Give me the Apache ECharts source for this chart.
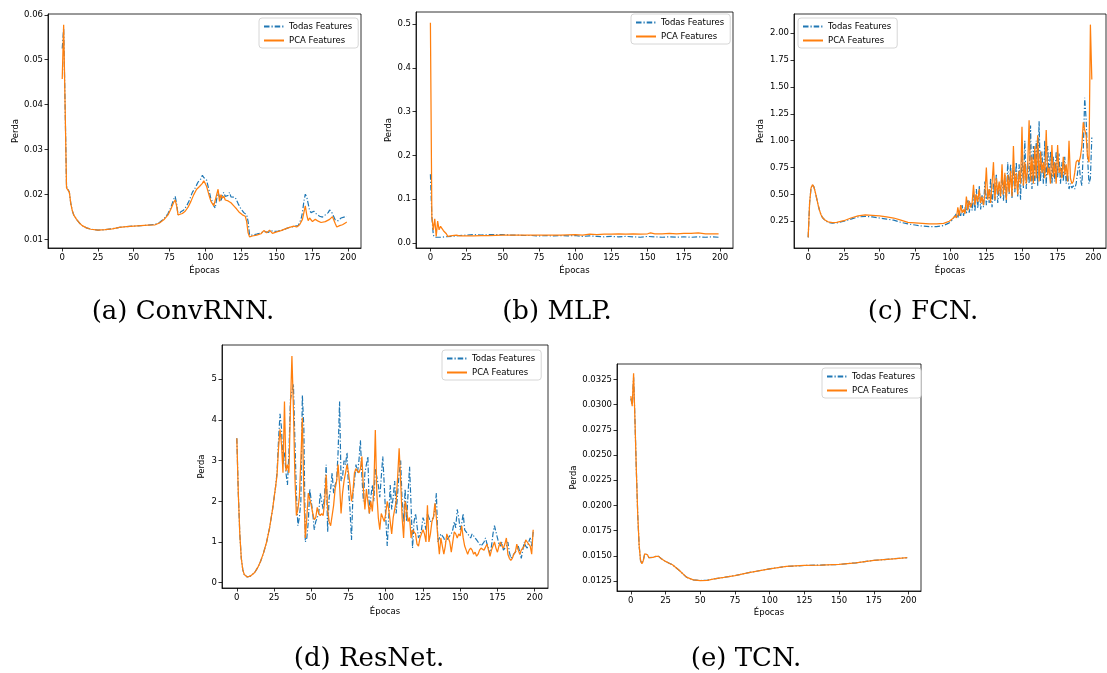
<!DOCTYPE html>
<html>
<head>
<meta charset="utf-8">
<script src="https://cdn.jsdelivr.net/npm/echarts@6/dist/echarts.min.js"></script>
<style>html,body{margin:0;padding:0;background:#fff;}#c{width:1107px;height:673px;}</style>
</head>
<body>
<div id="c"></div>
<script>
// ---------- DATA ----------
const seriesNames = ['Todas Features', 'PCA Features'];
const captionLabels = ['(a) ConvRNN.', '(b) MLP.', '(c) FCN.', '(d) ResNet.', '(e) TCN.'];
const xLabel = 'Épocas';
const yLabel = 'Perda';
const xTicks = [0, 25, 50, 75, 100, 125, 150, 175, 200];
const yTicksConvRNN = [0.01, 0.02, 0.03, 0.04, 0.05, 0.06];
const yTicksMLP = [0.0, 0.1, 0.2, 0.3, 0.4, 0.5];
const yTicksFCN = [0.25, 0.50, 0.75, 1.00, 1.25, 1.50, 1.75, 2.00];
const yTicksResNet = [0, 1, 2, 3, 4, 5];
const yTicksTCN = [0.0125, 0.0150, 0.0175, 0.0200, 0.0225, 0.0250, 0.0275, 0.0300, 0.0325];

const convrnnTodas = [[0,0.0525],[1,0.0570],[2,0.0400],[3,0.0218],[4,0.0213],[5,0.0205],[6,0.0180],[7,0.0165],[8,0.0155],[10,0.0145],[12,0.0137],[14,0.0131],[17,0.0126],[20,0.0123],[25,0.0121],[30,0.0122],[35,0.0124],[40,0.0127],[45,0.0129],[50,0.0130],[55,0.0131],[60,0.0132],[65,0.0134],[68,0.0138],[71,0.0146],[74,0.0158],[76,0.0172],[78,0.0190],[79,0.0196],[80,0.0180],[81,0.0155],[83,0.0162],[85,0.0166],[87,0.0175],[89,0.0188],[91,0.0205],[93,0.0215],[95,0.0228],[97,0.0235],[98,0.0243],[99,0.0238],[100,0.0236],[101,0.0232],[102,0.0228],[103,0.0205],[104,0.0190],[105,0.0185],[106,0.0175],[107,0.0170],[108,0.0190],[109,0.0205],[110,0.0195],[111,0.0185],[112,0.0200],[113,0.0205],[114,0.0196],[115,0.0200],[116,0.0198],[117,0.0205],[118,0.0195],[119,0.0198],[121,0.0194],[123,0.0180],[125,0.0168],[127,0.0160],[129,0.0155],[130,0.0140],[131,0.0110],[133,0.0110],[136,0.0112],[139,0.0115],[141,0.0118],[142,0.0121],[144,0.0116],[146,0.0120],[148,0.0118],[151,0.0119],[154,0.0121],[157,0.0125],[160,0.0128],[163,0.0130],[165,0.0131],[167,0.0145],[168,0.0160],[169,0.0185],[170,0.0201],[171,0.0195],[172,0.0180],[173,0.0165],[174,0.0160],[176,0.0163],[178,0.0156],[180,0.0152],[182,0.0150],[184,0.0155],[186,0.0160],[187,0.0166],[188,0.0162],[189,0.0158],[190,0.0150],[191,0.0143],[193,0.0142],[195,0.0148],[197,0.0150],[199,0.0152]];
const convrnnPCA = [[0,0.0457],[1,0.0578],[2,0.0400],[3,0.0215],[4,0.0213],[5,0.0205],[6,0.0180],[7,0.0165],[8,0.0155],[10,0.0145],[12,0.0137],[14,0.0131],[17,0.0126],[20,0.0123],[25,0.0121],[30,0.0122],[35,0.0124],[40,0.0127],[45,0.0129],[50,0.0130],[55,0.0131],[60,0.0132],[65,0.0133],[68,0.0137],[71,0.0144],[74,0.0155],[76,0.0168],[78,0.0183],[79,0.0188],[80,0.0175],[81,0.0155],[82,0.0157],[84,0.0158],[86,0.0163],[88,0.0172],[90,0.0185],[92,0.0200],[94,0.0212],[96,0.0218],[97,0.0220],[98,0.0225],[99,0.0231],[100,0.0225],[101,0.0218],[102,0.0215],[103,0.0195],[104,0.0185],[105,0.0182],[106,0.0175],[107,0.0178],[108,0.0200],[109,0.0212],[110,0.0185],[111,0.0200],[112,0.0192],[113,0.0197],[114,0.0188],[115,0.0192],[116,0.0186],[117,0.0190],[118,0.0182],[120,0.0175],[122,0.0168],[124,0.0160],[126,0.0155],[128,0.0152],[129,0.0140],[130,0.0115],[131,0.0106],[133,0.0108],[136,0.0110],[139,0.0113],[141,0.0120],[142,0.0122],[143,0.0115],[145,0.0121],[147,0.0114],[150,0.0117],[153,0.0120],[156,0.0124],[159,0.0127],[162,0.0130],[164,0.0128],[166,0.0133],[168,0.0145],[169,0.0160],[170,0.0175],[171,0.0155],[172,0.0142],[173,0.0148],[175,0.0140],[177,0.0145],[179,0.0141],[181,0.0138],[184,0.0140],[187,0.0145],[189,0.0151],[190,0.0147],[191,0.0135],[192,0.0128],[194,0.0131],[196,0.0133],[198,0.0137],[199,0.0139]];

const mlpTodas = [[0,0.157],[1,0.060],[2,0.018],[3,0.013],[5,0.013],[8,0.013],[10,0.014],[15,0.015],[20,0.017],[25,0.018],[30,0.019],[35,0.018],[40,0.019],[45,0.019],[50,0.019],[55,0.018],[60,0.018],[65,0.017],[70,0.017],[75,0.016],[80,0.017],[85,0.016],[90,0.017],[95,0.016],[100,0.017],[105,0.015],[110,0.016],[115,0.015],[120,0.014],[125,0.015],[130,0.014],[135,0.015],[140,0.014],[145,0.013],[150,0.015],[155,0.014],[160,0.013],[165,0.014],[170,0.013],[175,0.014],[180,0.013],[185,0.014],[190,0.013],[195,0.014],[199,0.013]];
const mlpPCA = [[0,0.503],[1,0.060],[2,0.030],[3,0.055],[4,0.015],[5,0.050],[6,0.030],[7,0.038],[8,0.035],[9,0.028],[10,0.026],[11,0.021],[12,0.015],[13,0.018],[15,0.017],[18,0.018],[20,0.016],[25,0.016],[30,0.016],[35,0.017],[40,0.017],[50,0.018],[60,0.018],[70,0.018],[75,0.018],[80,0.018],[90,0.018],[100,0.019],[105,0.018],[110,0.020],[115,0.019],[120,0.020],[125,0.020],[130,0.021],[135,0.020],[140,0.021],[145,0.020],[150,0.021],[152,0.023],[155,0.021],[160,0.021],[165,0.022],[170,0.021],[175,0.022],[180,0.022],[185,0.023],[190,0.021],[195,0.021],[199,0.021]];

const fcnTodasEarly = [[0,0.10],[1,0.42],[2,0.56],[3,0.59],[4,0.57],[5,0.52],[6,0.46],[7,0.40],[8,0.35],[9,0.31],[10,0.285],[12,0.255],[14,0.24],[17,0.232],[20,0.235],[25,0.25],[30,0.27],[35,0.29],[40,0.295],[45,0.29],[50,0.28],[55,0.27],[60,0.26],[65,0.24],[70,0.225],[75,0.215],[80,0.205],[85,0.20],[90,0.20],[95,0.21],[99,0.235]];
const fcnPCAEarly = [[0,0.10],[1,0.42],[2,0.56],[3,0.59],[4,0.57],[5,0.52],[6,0.46],[7,0.40],[8,0.35],[9,0.31],[10,0.285],[12,0.26],[14,0.245],[17,0.238],[20,0.24],[25,0.255],[30,0.28],[35,0.30],[40,0.31],[45,0.305],[50,0.30],[55,0.29],[60,0.28],[65,0.26],[70,0.24],[75,0.235],[80,0.23],[85,0.225],[90,0.225],[95,0.23],[99,0.25]];
const fcnLateStartEpoch = 100;
const fcnTodasLate = [0.24,0.26,0.28,0.27,0.32,0.28,0.35,0.30,0.40,0.30,0.38,0.32,0.45,0.33,0.42,0.35,0.50,0.34,0.55,0.37,0.58,0.36,0.50,0.38,0.62,0.40,0.55,0.42,0.65,0.38,0.60,0.44,0.69,0.42,0.60,0.46,0.72,0.44,0.68,0.42,0.80,0.50,0.78,0.46,0.75,0.52,0.80,0.48,0.78,0.45,0.90,0.56,1.00,0.55,0.80,0.60,1.14,0.55,0.95,0.60,1.00,0.58,1.18,0.62,0.90,0.60,1.00,0.58,0.95,0.70,0.90,0.60,0.85,0.62,0.90,0.66,0.88,0.60,0.80,0.62,0.85,0.60,0.70,0.55,0.60,0.56,0.58,0.55,0.60,0.70,0.80,0.65,0.58,0.90,1.40,1.20,0.85,0.60,0.65,1.03];
const fcnPCALate = [0.25,0.27,0.26,0.30,0.28,0.38,0.30,0.40,0.33,0.36,0.32,0.48,0.35,0.44,0.38,0.42,0.59,0.40,0.50,0.43,0.55,0.42,0.48,0.40,0.50,0.75,0.45,0.55,0.42,0.60,0.80,0.45,0.65,0.50,0.62,0.48,0.78,0.50,0.70,0.45,0.68,0.52,0.72,0.48,0.95,0.55,0.70,0.50,0.72,0.60,1.13,0.58,0.80,0.60,0.75,1.19,0.62,0.85,0.60,0.95,0.65,1.05,0.62,0.90,0.70,0.80,0.65,1.10,0.68,0.75,0.60,0.96,0.66,0.80,0.60,0.96,0.70,0.75,0.65,0.85,0.68,0.78,0.62,1.00,0.65,0.60,0.62,0.70,0.80,0.82,0.80,0.85,0.95,1.17,1.10,1.05,0.85,0.80,2.08,1.57];

const resnetTodas = [[0,3.55],[1,2.2],[2,1.2],[3,0.6],[4,0.32],[5,0.2],[6,0.16],[7,0.14],[8,0.145],[9,0.16],[10,0.18],[12,0.25],[14,0.37],[16,0.53],[18,0.74],[20,1.0],[22,1.35],[24,1.8],[26,2.35],[27,2.7],[28,3.5],[29,4.15],[30,3.8],[31,2.9],[32,3.2],[33,2.7],[34,2.4],[35,3.2],[36,4.5],[37,4.7],[38,4.88],[39,3.5],[40,2.2],[41,1.4],[42,1.6],[43,2.0],[44,4.6],[45,3.8],[46,1.0],[47,1.1],[48,1.5],[49,2.3],[50,2.0],[51,1.7],[52,1.3],[53,1.5],[54,1.6],[55,1.7],[56,2.2],[57,2.0],[58,1.8],[59,2.2],[60,2.9],[61,1.25],[62,2.1],[63,2.3],[64,2.7],[65,2.2],[66,2.4],[67,2.5],[68,3.2],[69,4.45],[70,2.5],[71,2.6],[72,3.0],[73,2.9],[74,3.2],[75,2.3],[76,1.8],[77,1.05],[78,2.2],[79,2.5],[80,2.9],[81,2.7],[82,3.0],[83,3.5],[84,2.6],[85,2.0],[86,2.7],[87,2.9],[88,3.1],[89,1.7],[90,2.1],[91,2.4],[92,2.0],[93,2.8],[94,2.6],[95,2.4],[96,2.1],[97,2.6],[98,3.1],[99,2.4],[100,1.6],[101,0.9],[102,1.6],[103,2.4],[104,1.8],[105,2.1],[106,2.5],[107,1.7],[108,2.2],[109,2.7],[110,3.0],[111,2.0],[112,1.5],[113,2.3],[114,1.5],[115,2.2],[116,2.85],[117,1.9],[118,0.85],[119,1.5],[120,1.7],[121,1.4],[122,1.1],[123,1.2],[124,1.3],[125,1.6],[126,1.5],[127,1.3],[128,1.7],[129,1.6],[130,1.5],[131,1.5],[132,1.6],[133,1.8],[134,2.2],[135,1.0],[136,1.1],[137,1.2],[138,1.15],[139,1.1],[140,1.0],[141,1.05],[142,1.1],[143,1.15],[144,1.2],[145,1.3],[146,1.5],[147,1.35],[148,1.8],[149,1.6],[150,1.3],[151,1.45],[152,1.7],[153,1.3],[154,1.25],[155,1.2],[156,1.15],[157,1.1],[158,1.2],[159,1.15],[160,1.1],[161,1.05],[162,1.0],[163,0.95],[164,0.9],[165,0.95],[166,1.0],[167,1.1],[168,0.95],[169,0.85],[170,0.7],[171,0.9],[172,1.2],[173,1.4],[174,1.25],[175,1.1],[176,0.95],[177,0.9],[178,1.0],[179,0.8],[180,0.85],[181,0.9],[182,1.0],[183,0.75],[184,0.6],[185,0.65],[186,0.7],[187,0.75],[188,0.8],[189,0.9],[190,0.75],[191,0.6],[192,0.8],[193,1.0],[194,0.9],[195,0.85],[196,1.0],[197,1.1],[198,0.9],[199,1.25]];
const resnetPCA = [[0,3.55],[1,2.2],[2,1.2],[3,0.6],[4,0.32],[5,0.2],[6,0.16],[7,0.14],[8,0.145],[9,0.16],[10,0.18],[12,0.25],[14,0.37],[16,0.53],[18,0.74],[20,1.0],[22,1.35],[24,1.8],[26,2.35],[27,2.65],[28,3.3],[29,3.77],[30,3.4],[31,2.7],[32,4.45],[33,2.75],[34,2.9],[35,2.7],[36,4.3],[37,5.57],[38,4.3],[39,2.6],[40,1.65],[41,1.8],[42,2.1],[43,3.0],[44,4.05],[45,2.2],[46,1.1],[47,1.6],[48,2.2],[49,2.05],[50,1.9],[51,1.7],[52,1.55],[53,1.6],[54,1.85],[55,1.7],[56,1.65],[57,1.7],[58,1.65],[59,2.0],[60,2.65],[61,1.8],[62,1.5],[63,1.4],[64,1.4],[65,1.9],[66,2.3],[67,2.5],[68,2.9],[69,2.4],[70,1.7],[71,2.2],[72,2.5],[73,2.7],[74,2.9],[75,2.7],[76,2.4],[77,2.0],[78,2.25],[79,2.7],[80,2.8],[81,2.75],[82,2.7],[83,2.8],[84,3.1],[85,2.3],[86,1.8],[87,2.3],[88,2.0],[89,1.7],[90,2.0],[91,1.75],[92,2.3],[93,3.75],[94,2.2],[95,1.6],[96,1.3],[97,1.7],[98,1.7],[99,1.5],[100,1.7],[101,2.0],[102,1.8],[103,1.5],[104,1.2],[105,1.6],[106,1.8],[107,2.0],[108,2.6],[109,3.3],[110,2.5],[111,1.6],[112,1.1],[113,2.0],[114,1.8],[115,1.5],[116,1.6],[117,1.1],[118,1.3],[119,1.3],[120,1.2],[121,0.95],[122,0.9],[123,1.1],[124,1.2],[125,1.3],[126,1.2],[127,1.0],[128,1.9],[129,1.0],[130,1.2],[131,1.5],[132,1.6],[133,1.95],[134,1.6],[135,1.1],[136,0.7],[137,1.1],[138,0.9],[139,0.7],[140,0.9],[141,1.2],[142,1.1],[143,1.0],[144,0.75],[145,1.0],[146,1.25],[147,1.2],[148,1.1],[149,1.2],[150,1.15],[151,1.4],[152,1.1],[153,0.9],[154,0.8],[155,0.7],[156,0.8],[157,0.85],[158,0.8],[159,0.7],[160,0.75],[161,0.65],[162,0.7],[163,0.8],[164,0.85],[165,0.85],[166,0.8],[167,0.8],[168,0.95],[169,0.8],[170,0.65],[171,0.8],[172,0.9],[173,1.0],[174,0.85],[175,0.75],[176,0.9],[177,1.0],[178,0.9],[179,0.85],[180,0.95],[181,1.1],[182,0.7],[183,0.6],[184,0.55],[185,0.6],[186,0.7],[187,0.75],[188,0.95],[189,0.8],[190,0.7],[191,0.8],[192,0.85],[193,0.9],[194,1.05],[195,1.0],[196,0.95],[197,0.9],[198,0.7],[199,1.3]];

const tcnTodas = [[0,0.0306],[1,0.0300],[2,0.0327],[3,0.0284],[4,0.0234],[5,0.0190],[6,0.0160],[7,0.01456],[8,0.01423],[9,0.01456],[10,0.01522],[11,0.01539],[12,0.01512],[13,0.01483],[14,0.01476],[16,0.01486],[18,0.01496],[20,0.01496],[22,0.01473],[25,0.01446],[28,0.01426],[30,0.01413],[35,0.01356],[40,0.0129],[45,0.01263],[50,0.01257],[55,0.01259],[60,0.01273],[67,0.01288],[75,0.01306],[85,0.01335],[100,0.01373],[112,0.01396],[125,0.01406],[137,0.01410],[150,0.01416],[162,0.01432],[175,0.01456],[187,0.01470],[199,0.01483]];
const tcnPCA = [[0,0.03084],[1,0.02984],[2,0.0331],[3,0.02835],[4,0.02336],[5,0.01904],[6,0.01605],[7,0.01456],[8,0.01423],[9,0.01456],[10,0.01522],[11,0.01539],[12,0.01512],[13,0.01483],[14,0.01476],[16,0.01486],[18,0.01496],[20,0.01496],[22,0.01473],[25,0.01446],[28,0.01426],[30,0.01413],[35,0.01356],[40,0.0129],[45,0.01263],[50,0.01257],[55,0.01259],[60,0.01273],[67,0.01288],[75,0.01306],[85,0.01335],[100,0.01373],[112,0.01396],[125,0.01406],[137,0.01410],[150,0.01416],[162,0.01432],[175,0.01456],[187,0.01470],[199,0.01483]];

// ---------- BUILD ----------
function withEpochs(start, vals) { return vals.map((v, i) => [start + i, v]); }
const fcnTodas = fcnTodasEarly.concat(withEpochs(fcnLateStartEpoch, fcnTodasLate));
const fcnPCA = fcnPCAEarly.concat(withEpochs(fcnLateStartEpoch, fcnPCALate));

const BLUE = '#1f77b4', ORANGE = '#ff7f0e';
const FONT = 'DejaVu Sans';
const panels = [
  { grid: {left: 48, top: 14, width: 313, height: 234}, yMin: 0.00813, yMax: 0.06017, yTicks: yTicksConvRNN, dec: 2, yGap: 28, xGap: 18, legend: {left: 259, top: 18}, todas: convrnnTodas, pca: convrnnPCA },
  { grid: {left: 416, top: 12, width: 317, height: 236}, yMin: -0.0115, yMax: 0.5275, yTicks: yTicksMLP, dec: 1, yGap: 23, xGap: 18, legend: {left: 631, top: 14}, todas: mlpTodas, pca: mlpPCA },
  { grid: {left: 794, top: 14, width: 312, height: 234}, yMin: 0.001, yMax: 2.179, yTicks: yTicksFCN, dec: 2, yGap: 29, xGap: 18, legend: {left: 798, top: 18}, todas: fcnTodas, pca: fcnPCA },
  { grid: {left: 222, top: 345, width: 326, height: 243}, yMin: -0.13, yMax: 5.84, yTicks: yTicksResNet, dec: 0, yGap: 16, xGap: 19, legend: {left: 442, top: 350}, todas: resnetTodas, pca: resnetPCA },
  { grid: {left: 617, top: 364, width: 304, height: 227}, yMin: 0.01153, yMax: 0.03402, yTicks: yTicksTCN, dec: 4, yGap: 39, xGap: 17, legend: {left: 822, top: 368}, todas: tcnTodas, pca: tcnPCA }
];
const captionPos = [[183, 312], [557, 312], [923, 312], [369, 659], [746, 659]];

const txt = {fontFamily: FONT, fontSize: 8.5, color: '#000'};
const option = { animation: false, backgroundColor: '#fff', grid: [], xAxis: [], yAxis: [], series: [], legend: [], graphic: [] };

panels.forEach((p, i) => {
  option.grid.push(Object.assign({ show: true, borderColor: '#000', borderWidth: 0.8, backgroundColor: '#fff', containLabel: false }, p.grid));
  option.xAxis.push({
    type: 'value', gridIndex: i, min: -9.95, max: 208.95,
    axisLine: { show: true, onZero: false, lineStyle: { color: '#000', width: 0.8 } },
    axisTick: { show: true, inside: false, length: 3.5, customValues: xTicks, lineStyle: { color: '#000', width: 0.8 } },
    axisLabel: { customValues: xTicks, margin: 5, ...txt, formatter: v => String(Math.round(v)) },
    splitLine: { show: false },
    name: xLabel, nameLocation: 'middle', nameGap: p.xGap, nameTextStyle: { ...txt }
  });
  option.yAxis.push({
    type: 'value', gridIndex: i, min: p.yMin, max: p.yMax,
    axisLine: { show: true, onZero: false, lineStyle: { color: '#000', width: 0.8 } },
    axisTick: { show: true, inside: false, length: 3.5, customValues: p.yTicks, lineStyle: { color: '#000', width: 0.8 } },
    axisLabel: { customValues: p.yTicks, margin: 5, ...txt, formatter: v => v.toFixed(p.dec) },
    splitLine: { show: false },
    name: yLabel, nameLocation: 'middle', nameGap: p.yGap, nameRotate: 90, nameTextStyle: { ...txt }
  });
  option.series.push({
    type: 'line', name: seriesNames[0], xAxisIndex: i, yAxisIndex: i, data: p.todas,
    symbol: 'none', showSymbol: false, color: BLUE, z: 2,
    lineStyle: { color: BLUE, width: 1.2, type: [5.5, 2, 1.2, 2] }
  });
  option.series.push({
    type: 'line', name: seriesNames[1], xAxisIndex: i, yAxisIndex: i, data: p.pca,
    symbol: 'none', showSymbol: false, color: ORANGE, z: 3,
    lineStyle: { color: ORANGE, width: 1.25, type: 'solid' }
  });
  option.legend.push({
    data: seriesNames, orient: 'vertical', left: p.legend.left, top: p.legend.top,
    itemWidth: 20, itemHeight: 8, itemGap: 5, selectedMode: false,
    itemStyle: { opacity: 0, borderWidth: 0, color: 'rgba(0,0,0,0)' },
    textStyle: { ...txt }, borderColor: '#cccccc', borderWidth: 0.8, borderRadius: 3,
    padding: [4, 6, 3, 4], backgroundColor: 'rgba(255,255,255,0.85)'
  });
});

captionLabels.forEach((t, i) => {
  option.graphic.push({
    type: 'text', x: captionPos[i][0], y: captionPos[i][1], z: 100,
    style: { text: t, fill: '#000', fontFamily: 'DejaVu Serif', fontSize: 26, align: 'center', verticalAlign: 'middle', textAlign: 'center', textVerticalAlign: 'middle' }
  });
});

const chart = echarts.init(document.getElementById('c'), null, { renderer: 'canvas' });
chart.setOption(option);
</script>
</body>
</html>
